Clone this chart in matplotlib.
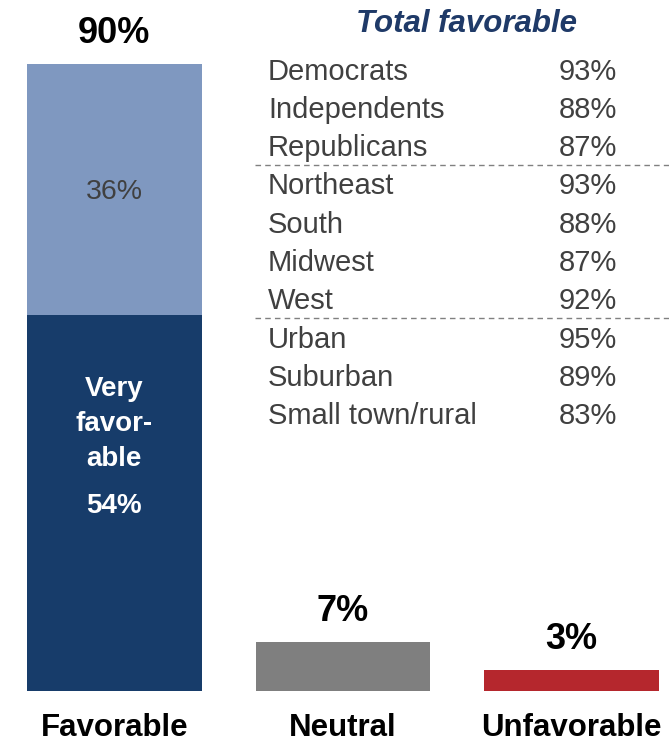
#!/usr/bin/env python
# -*- coding: utf-8 -*-

import matplotlib
matplotlib.use('Agg')
import matplotlib.pyplot as plt

plt.rcParams['font.family'] = ['Liberation Sans', 'DejaVu Sans']

categories = ['Favorable', 'Neutral', 'Unfavorable']
totals = [90, 7, 3]
very_favorable = 54
bar_colors = ['#7F98C0', '#7F7F7F', '#B5272D']
very_color = '#173C6A'

groups = [
    ['Democrats', 'Independents', 'Republicans'],
    ['Northeast', 'South', 'Midwest', 'West'],
    ['Urban', 'Suburban', 'Small town/rural'],
]
group_values = [
    [93, 88, 87],
    [93, 88, 87, 92],
    [95, 89, 83],
]

W, H = 669, 742
fig = plt.figure(figsize=(W / 100, H / 100), dpi=100)

#------------------------------------------------------
# bars
ax = fig.add_axes([27 / W, (H - 691) / H, (659 - 27) / W, (691 - 64) / H])
x = list(range(len(categories)))
width = 0.764
ax.bar(x, totals, width=width, color=bar_colors)
ax.bar([0], [very_favorable], width=width, color=very_color)
ax.set_xlim(-width / 2, 2 + width / 2)
ax.set_ylim(0, 90)
ax.axis('off')

for xi, v, name in zip(x, totals, categories):
    ax.annotate(f'{v}%', (xi, v), xytext=(0, 22), textcoords='offset points',
                ha='center', va='center', fontsize=26, fontweight='bold',
                color='black')
    ax.annotate(name, (xi, 0), xytext=(0, -26.5), textcoords='offset points',
                ha='center', va='center', fontsize=22.5, fontweight='bold',
                color='black')

somewhat = totals[0] - very_favorable
ax.annotate(f'{somewhat}%', (0, very_favorable + somewhat / 2), xytext=(0, -2),
            textcoords='offset points', ha='center', va='center',
            fontsize=20.5, color='#404040')
ax.annotate(f'{very_favorable}%', (0, very_favorable / 2), xytext=(0, -2.5),
            textcoords='offset points', ha='center', va='center',
            fontsize=20, fontweight='bold', color='white')
ax.annotate('Very\nfavor-\nable', (0, very_favorable / 2), xytext=(0, 57),
            textcoords='offset points', ha='center', va='center',
            fontsize=20, fontweight='bold', color='white', linespacing=1.45)

#------------------------------------------------------
# subgroup table, laid out in pixel coordinates
tx = fig.add_axes([0, 0, 1, 1])
tx.set_xlim(0, W)
tx.set_ylim(H, 0)
tx.axis('off')

tx.text(466, 24, 'Total favorable', ha='center', va='center', fontsize=22.5,
        fontweight='bold', fontstyle='italic', color='#1F3A68')

y = 69
step = 38.3
for gi, (names, vals) in enumerate(zip(groups, group_values)):
    if gi > 0:
        ly = y - step / 2
        tx.plot([255, 669], [ly, ly], color='#808080', lw=1,
                linestyle=(0, (4, 3)))
    for name, v in zip(names, vals):
        tx.text(268, y + 2.5, name, ha='left', va='center', fontsize=21,
                color='#404040')
        tx.text(617, y + 2.5, f'{v}%', ha='right', va='center', fontsize=21,
                color='#404040')
        y += step

plt.savefig('out.png', dpi=100)
